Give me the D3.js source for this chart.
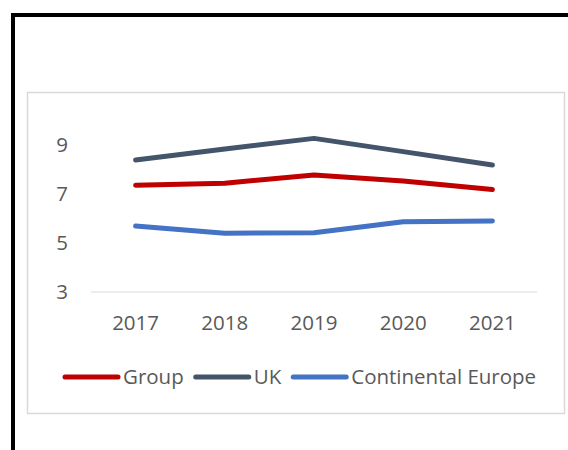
<!DOCTYPE html>
<html>
<head>
<meta charset="utf-8">
<style>
  body { margin: 0; background: #fff; }
  svg { display: block; }
  text { font-family: "Open Sans", sans-serif; fill: #595959; }
</style>
</head>
<body>
<script src="https://d3js.org/d3.v7.min.js"></script>
<script>
// chart data
var years = ["2017", "2018", "2019", "2020", "2021"];
var group = [7.36, 7.44, 7.78, 7.53, 7.18];
var uk = [8.39, 8.84, 9.27, 8.73, 8.18];
var europe = [5.69, 5.40, 5.42, 5.87, 5.90];
var yTicks = [3, 5, 7, 9];
var seriesNames = ["Group", "UK", "Continental Europe"];
var seriesColors = ["#C00000", "#44546A", "#4472C4"];

var W = 568, H = 450;
var fs = 20.5;
var svg = d3.select("body").append("svg")
    .attr("width", W).attr("height", H);

// black frame fragments (screenshot edge)
svg.append("rect").attr("x", 11).attr("y", 13).attr("width", W - 11).attr("height", 4).attr("fill", "#000");
svg.append("rect").attr("x", 11).attr("y", 13).attr("width", 4).attr("height", H - 13).attr("fill", "#000");

// chart box
svg.append("rect")
    .attr("x", 27.5).attr("y", 92.5)
    .attr("width", 537).attr("height", 321)
    .attr("fill", "#fff")
    .attr("stroke", "#d9d9d9")
    .attr("stroke-width", 1.5);

var x = d3.scalePoint().domain(years).range([91, 537]).padding(0.5);
var y = d3.scaleLinear().domain([3, 9]).range([292, 145]);

// baseline
svg.append("line")
    .attr("x1", 91).attr("x2", 537)
    .attr("y1", y(3)).attr("y2", y(3))
    .attr("stroke", "#d9d9d9").attr("stroke-width", 1.2);

// y axis labels
svg.append("g").selectAll("text")
    .data(yTicks).enter().append("text")
    .attr("x", 68)
    .attr("y", function(d) { return y(d); })
    .attr("dy", "0.35em")
    .attr("text-anchor", "end")
    .attr("font-size", fs)
    .text(function(d) { return d; });

// x axis labels
svg.append("g").selectAll("text")
    .data(years).enter().append("text")
    .attr("x", function(d) { return x(d); })
    .attr("y", 323)
    .attr("dy", "0.35em")
    .attr("text-anchor", "middle")
    .attr("font-size", fs)
    .text(function(d) { return d; });

var line = d3.line()
    .x(function(d, i) { return x(years[i]); })
    .y(function(d) { return y(d); });

var allSeries = [group, uk, europe];
// draw in order so group sits on top like the original
[europe, uk, group].forEach(function(s) {
    var idx = allSeries.indexOf(s);
    svg.append("path")
        .datum(s)
        .attr("d", line)
        .attr("fill", "none")
        .attr("stroke", seriesColors[idx])
        .attr("stroke-width", 5)
        .attr("stroke-linecap", "round")
        .attr("stroke-linejoin", "round");
});

// legend
var lx = 63, ly = 377;
seriesNames.forEach(function(name, i) {
    svg.append("line")
        .attr("x1", lx + 2).attr("x2", lx + 55)
        .attr("y1", ly).attr("y2", ly)
        .attr("stroke", seriesColors[i])
        .attr("stroke-width", 5)
        .attr("stroke-linecap", "round");
    var t = svg.append("text")
        .attr("x", lx + 60)
        .attr("y", ly)
        .attr("dy", "0.35em")
        .attr("font-size", fs)
        .text(name);
    lx = lx + 60 + t.node().getComputedTextLength() + 10;
});
</script>
</body>
</html>
